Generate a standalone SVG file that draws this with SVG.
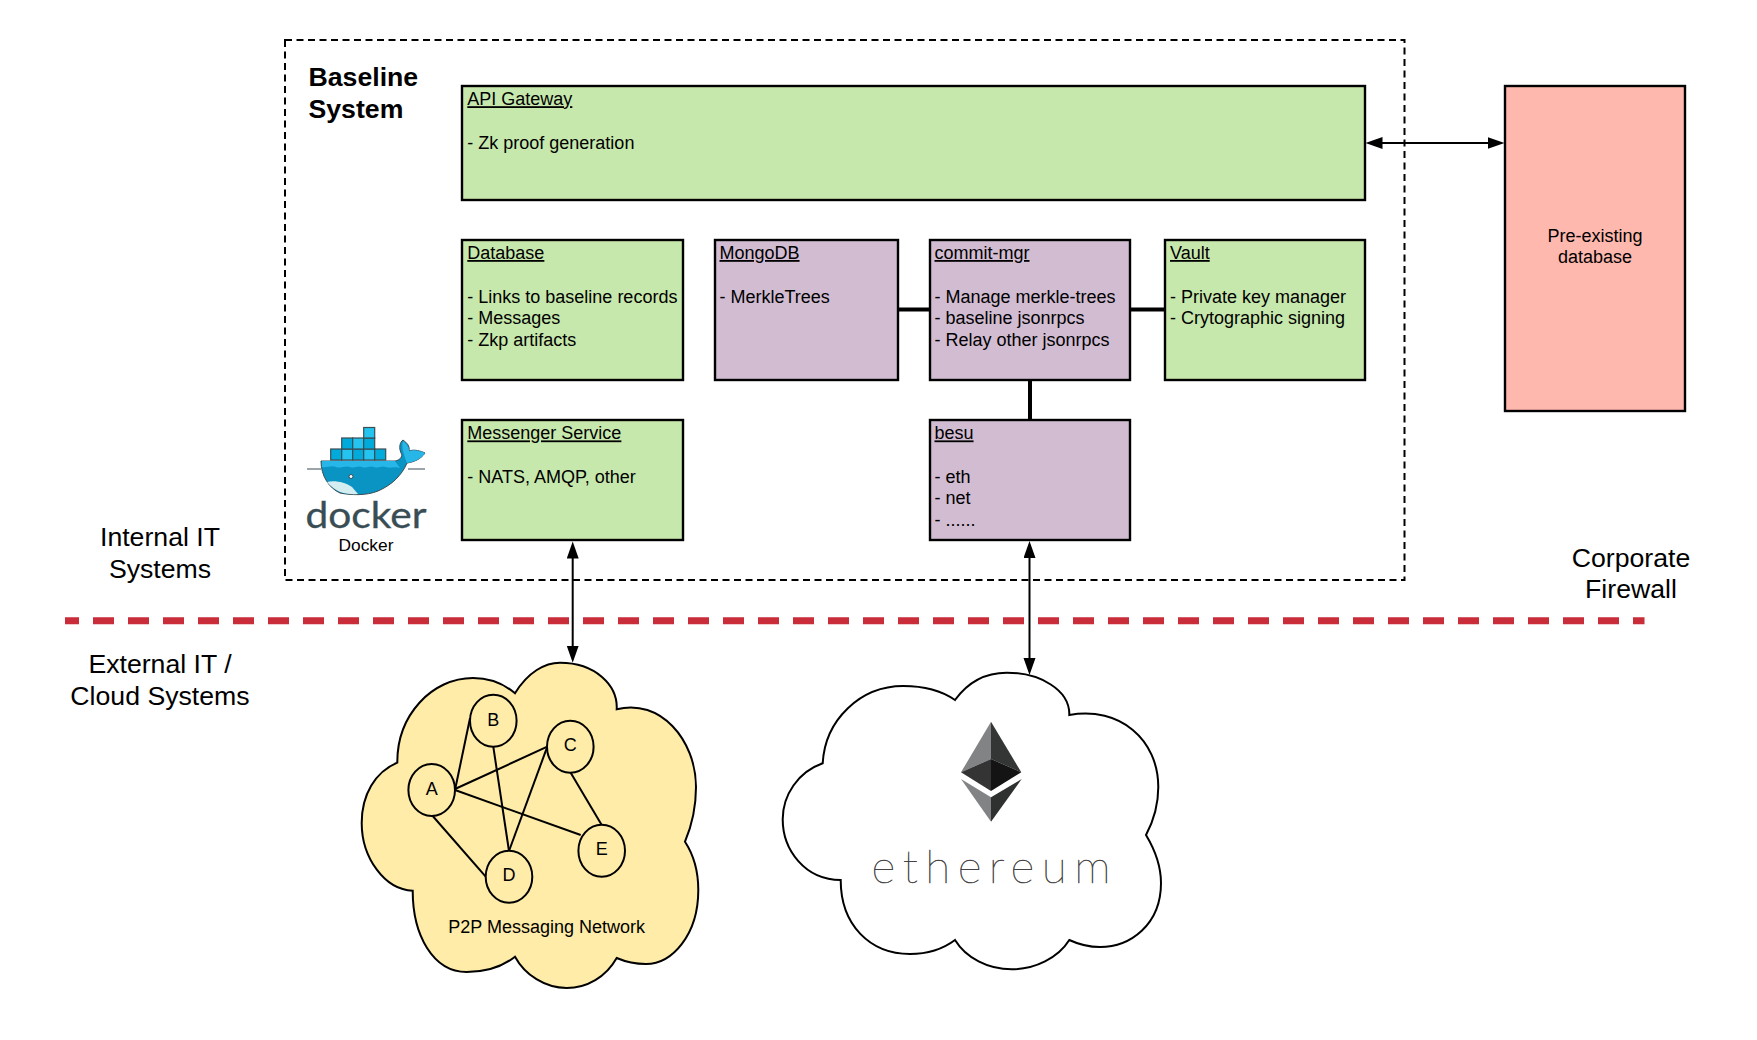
<svg xmlns="http://www.w3.org/2000/svg" width="1757" height="1040" viewBox="0 0 1757 1040">
<style>
text{font-family:"Liberation Sans",Arial,sans-serif;fill:#000}
.t{font-size:18px}
.c{text-anchor:middle}
.big{font-size:26.67px}
.u{text-decoration:underline}
.box{stroke:#000;stroke-width:2.4}
.green{fill:#c7e8ac}
.purple{fill:#d1bcd2}
.cloud{stroke:#000;stroke-width:2}
.peer{fill:#ffeca9;stroke:#000;stroke-width:2}
.edge{stroke:#000;stroke-width:2;fill:none}
.thick{stroke:#000;stroke-width:4;fill:none}
.arrow{stroke:#000;stroke-width:2;fill:none;marker-start:url(#tri);marker-end:url(#tri)}
.cargo{stroke:#394d54;stroke-width:1.2}
</style>
<defs>
<marker id="tri" markerUnits="userSpaceOnUse" markerWidth="18" markerHeight="13" refX="12" refY="6" orient="auto-start-reverse"><path d="M0,0L17,6L0,12z" fill="#000"/></marker>
</defs>
<rect width="1757" height="1040" fill="#fff"/>
<g id="baseline-system">
<rect x="285" y="40" width="1119.5" height="540" fill="none" stroke="#000" stroke-width="2" stroke-dasharray="7 4.5"/>
<text class="big" font-weight="700" x="308.5" y="85.5">Baseline</text>
<text class="big" font-weight="700" x="308.5" y="118">System</text>
</g>
<g id="firewall">
<path d="M65,620.7H1644.5" fill="none" stroke="#c92d39" stroke-width="7" stroke-dasharray="21 14" stroke-dashoffset="7"/>
</g>
<g id="zone-labels">
<text class="big c" x="160" y="546.3">Internal IT</text>
<text class="big c" x="160" y="578.3">Systems</text>
<text class="big c" x="160" y="673.3">External IT /</text>
<text class="big c" x="160" y="705">Cloud Systems</text>
<text class="big c" x="1631" y="566.5">Corporate</text>
<text class="big c" x="1631" y="598.3">Firewall</text>
</g>
<g id="p2p-cloud">
<path class="cloud" fill="#ffeca9" d="M515,693.3C528,672 545,662.7 560,662.7C595,662.7 618,685 616.7,709.3C660,698 696,740 696,787C696,805 692,825 685,841.7C695,857 698.3,873 698.3,890C698.3,935 672,964 646,964C636,964 626,962 616.7,958C606,977 587,988 566.7,988C545,988 525,975 515,956.7C502,967 485,972 466.7,972C433,972 412.7,935 412.7,890.7C385,890 361.7,858 361.7,823C361.7,795 375,772 397.3,762.7C397,715 432,678 473,678C488,678 503,683 515,693.3Z"/>
<text class="t c" x="546.7" y="933">P2P Messaging Network</text>
</g>
<g id="ethereum-cloud">
<path class="cloud" fill="#fff" d="M955,700C968,682 986,672.7 1006.7,672.7C1040,672.7 1070,690 1069.3,715C1120,706 1158.3,740 1158.3,787C1158.3,805 1154,820 1146,835C1155,850 1161,865 1161,883C1161,925 1130,947 1100,947C1090,947 1080,945 1069.3,940C1058,958 1035,969.3 1011.7,969.3C988,969.3 966,958 955,940C943,949 927,954 910,954C870,954 840.7,925 840.7,880C805,880 782.7,850 782.7,819.3C782.7,795 798,772 822.7,763.3C825,720 860,686 903.3,686C925,686 942,691 955,700Z"/>
<polygon points="991,721.7 961,772.3 991,759" fill="#828384"/>
<polygon points="991,721.7 1021.3,772.3 991,759" fill="#343535"/>
<polygon points="961,772.3 991,759 991,791" fill="#343434"/>
<polygon points="1021.3,772.3 991,759 991,791" fill="#141414"/>
<polygon points="961,779 991,797.3 991,821.7" fill="#828384"/>
<polygon points="1021.7,779 991,797.3 991,821.7" fill="#2f3030"/>
<text x="871.5" y="883.3" font-size="46" font-weight="100" textLength="239" lengthAdjust="spacing" style="font-family:Lato,'Liberation Sans',sans-serif;fill:#444;stroke:#444;stroke-width:.5">ethereum</text>
</g>
<g id="connectors">
<path class="arrow" d="M572.7,546.5V657.7"/>
<path class="arrow" d="M1029.5,546V670"/>
<path class="arrow" d="M1370.5,143H1499.5"/>
<path class="thick" d="M898,309.5H930"/>
<path class="thick" d="M1130,309.5H1165"/>
<path class="thick" d="M1030,380V420"/>
<path class="edge" d="M455,790L470,718.3"/>
<path class="edge" d="M455,789L547.3,746.7"/>
<path class="edge" d="M455,790L580.7,835"/>
<path class="edge" d="M432.7,816L485.7,876.7"/>
<path class="edge" d="M493.3,746.7L509,851"/>
<path class="edge" d="M547.3,746.7L509,851"/>
<path class="edge" d="M570.7,772.7L601.7,825"/>
</g>
<g id="api-gateway">
<rect class="box green" x="462" y="86" width="903" height="114"/>
<text class="t" x="467.3" y="105.2"><tspan class="u">API Gateway</tspan></text>
<text class="t" x="467.3" y="149">- Zk proof generation</text>
</g>
<g id="database">
<rect class="box green" x="462" y="240" width="221" height="140"/>
<text class="t" x="467.3" y="259"><tspan class="u">Database</tspan></text>
<text class="t" x="467.3" y="302.5">- Links to baseline records</text>
<text class="t" x="467.3" y="324.3">- Messages</text>
<text class="t" x="467.3" y="346">- Zkp artifacts</text>
</g>
<g id="mongodb">
<rect class="box purple" x="715" y="240" width="183" height="140"/>
<text class="t" x="719.5" y="259"><tspan class="u">MongoDB</tspan></text>
<text class="t" x="719.5" y="302.5">- MerkleTrees</text>
</g>
<g id="commit-mgr">
<rect class="box purple" x="930" y="240" width="200" height="140"/>
<text class="t" x="934.5" y="259"><tspan class="u">commit-mgr</tspan></text>
<text class="t" x="934.5" y="302.5">- Manage merkle-trees</text>
<text class="t" x="934.5" y="324.3">- baseline jsonrpcs</text>
<text class="t" x="934.5" y="346">- Relay other jsonrpcs</text>
</g>
<g id="vault">
<rect class="box green" x="1165" y="240" width="200" height="140"/>
<text class="t" x="1170" y="259"><tspan class="u">Vault</tspan></text>
<text class="t" x="1170" y="302.5">- Private key manager</text>
<text class="t" x="1170" y="324.3">- Crytographic signing</text>
</g>
<g id="messenger-service">
<rect class="box green" x="462" y="420" width="221" height="120"/>
<text class="t" x="467.3" y="439.4"><tspan class="u">Messenger Service</tspan></text>
<text class="t" x="467.3" y="482.5">- NATS, AMQP, other</text>
</g>
<g id="besu">
<rect class="box purple" x="930" y="420" width="200" height="120"/>
<text class="t" x="934.5" y="439.4"><tspan class="u">besu</tspan></text>
<text class="t" x="934.5" y="482.5">- eth</text>
<text class="t" x="934.5" y="504.3">- net</text>
<text class="t" x="934.5" y="526">- ......</text>
</g>
<g id="pre-existing-database">
<rect class="box" fill="#ffb8ae" x="1505" y="86" width="180" height="325"/>
<text class="t c" x="1595" y="241.5">Pre-existing</text>
<text class="t c" x="1595" y="263">database</text>
</g>
<g id="docker">
<path d="M307,469H321M408,469H425" stroke="#394d54" stroke-width="1.2" fill="none"/>
<path d="M321,461H395C400,460 401,458 402,455C398,448 400,442 403,440C407,443 410,446 409,451C414,449 421,451 425,453C421,459 414,462 407,463C402,475 392,485 378,491C366,496 350,495 340,493C329,488 321,476 321,461Z" fill="#0a94c4" stroke="#394d54" stroke-width="1"/>
<path d="M322,461H395L400,468C394,466 390,469 386,467C382,465 378,469 374,467C370,465 366,469 362,467C358,465 354,469 350,467C346,465 340,469 336,467C332,465 327,468 322,467Z" fill="#27b6e8"/>
<path d="M403,441C407,444 409,447 409,451C414,449 421,451 425,453C421,459 414,462 407,463C404,455 401,447 403,441Z" fill="#27b6e8"/>
<path d="M327,482C334,480 345,482 352,487L358,494C346,495 335,492 327,482Z" fill="#d4edf1"/>
<circle cx="351" cy="476.5" r="2" fill="#fff" stroke="#394d54"/>
<rect class="cargo" fill="#00aada" x="330.7" y="449" width="11" height="11"/>
<rect class="cargo" fill="#24c3f0" x="341.7" y="449" width="11" height="11"/>
<rect class="cargo" fill="#00aada" x="352.7" y="449" width="11" height="11"/>
<rect class="cargo" fill="#24c3f0" x="363.7" y="449" width="11" height="11"/>
<rect class="cargo" fill="#00aada" x="374.7" y="449" width="11" height="11"/>
<rect class="cargo" fill="#00aada" x="341.7" y="438" width="11" height="11"/>
<rect class="cargo" fill="#24c3f0" x="352.7" y="438" width="11" height="11"/>
<rect class="cargo" fill="#00aada" x="363.7" y="438" width="11" height="11"/>
<rect class="cargo" fill="#24c3f0" x="363.7" y="427.5" width="11" height="10.5"/>
<text x="305.5" y="527.7" font-size="36" textLength="121" lengthAdjust="spacingAndGlyphs" style="font-family:Lato,'Liberation Sans',sans-serif;fill:#394d54;stroke:#394d54;stroke-width:.3">docker</text>
<text class="c" font-size="17.33" x="366" y="551">Docker</text>
</g>
<g id="peer-a"><ellipse class="peer" cx="431.7" cy="790" rx="23.3" ry="26"/><text class="t c" x="431.7" y="794.5">A</text></g>
<g id="peer-b"><ellipse class="peer" cx="493.3" cy="720.7" rx="23.3" ry="26"/><text class="t c" x="493.3" y="725.5">B</text></g>
<g id="peer-c"><ellipse class="peer" cx="570.3" cy="746.7" rx="23.3" ry="26"/><text class="t c" x="570.3" y="751">C</text></g>
<g id="peer-d"><ellipse class="peer" cx="509" cy="876.7" rx="23.3" ry="26"/><text class="t c" x="509" y="881">D</text></g>
<g id="peer-e"><ellipse class="peer" cx="601.7" cy="850.7" rx="23.3" ry="26"/><text class="t c" x="601.7" y="855">E</text></g>
</svg>
